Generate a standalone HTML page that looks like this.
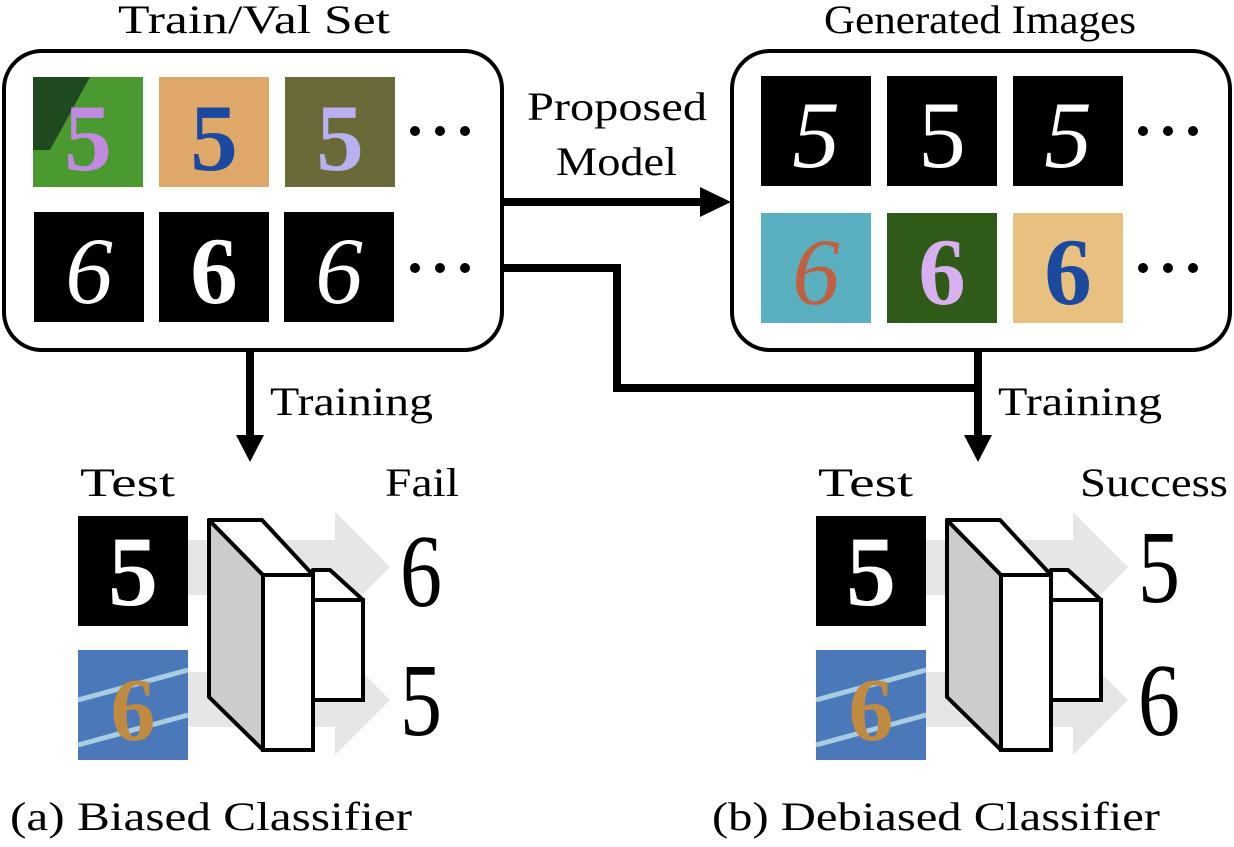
<!DOCTYPE html>
<html><head><meta charset="utf-8"><style>
body{margin:0;background:#fff;}
svg text{font-family:"Liberation Serif",serif;fill:#000;}
</style></head><body>
<svg width="1234" height="842" viewBox="0 0 1234 842" xmlns="http://www.w3.org/2000/svg">
<defs>
<g id="cls">
  <path d="M188 540 H335 V512 L390 567 L335 622 V595 H188 Z" fill="#e6e6e6"/>
  <path d="M188 672 H335 V645 L390 700 L335 755 V727 H188 Z" fill="#e6e6e6"/>
  <polygon points="313,570 330,570 363,600 313,600" fill="#fff" stroke="#000" stroke-width="4" stroke-linejoin="round"/>
  <rect x="313" y="600" width="50" height="100" fill="#fff" stroke="#000" stroke-width="4"/>
  <polygon points="209,520 263,575 263,750 209,697" fill="#ccc" stroke="#000" stroke-width="4" stroke-linejoin="round"/>
  <polygon points="209,520 262,520 313,575 263,575" fill="#fff" stroke="#000" stroke-width="4" stroke-linejoin="round"/>
  <rect x="263" y="575" width="50" height="175" fill="#fff" stroke="#000" stroke-width="4"/>
  <rect x="78" y="516" width="110" height="110" fill="#000"/>
  <text x="133" y="605" font-size="100" text-anchor="middle" font-family="Liberation Sans" font-weight="bold" style="fill:#fff">5</text>
  <rect x="78" y="650" width="110" height="110" fill="#4a78b8"/>
  <path d="M78 700 L188 670 M78 745 L188 715" stroke="#a8cde0" stroke-width="5"/>
  <text x="133" y="740" font-size="90" text-anchor="middle" font-family="Liberation Sans" font-weight="bold" style="fill:#c08a40">6</text>
</g>
</defs>

<text x="118" y="33" font-size="40" textLength="272" lengthAdjust="spacingAndGlyphs">Train/Val Set</text>
<text x="824" y="33" font-size="40" textLength="312" lengthAdjust="spacingAndGlyphs">Generated Images</text>

<rect x="4" y="51" width="498" height="299" rx="38" fill="#fff" stroke="#000" stroke-width="4"/>
<rect x="732" y="51" width="498" height="299" rx="38" fill="#fff" stroke="#000" stroke-width="4"/>

<rect x="33" y="77" width="110" height="110" fill="#4a9a30"/>
<path d="M33 77 L90 77 L50 150 L33 150Z" fill="#1f4a20"/>
<text x="88" y="170" font-size="95" text-anchor="middle" font-family="Liberation Sans" font-weight="bold" style="fill:#c08ae0">5</text>
<rect x="159" y="77" width="110" height="110" fill="#e0a868"/>
<text x="214" y="170" font-size="95" text-anchor="middle" font-family="Liberation Sans" font-weight="bold" style="fill:#1a4aa0">5</text>
<rect x="285" y="77" width="110" height="110" fill="#6a6a38"/>
<text x="340" y="170" font-size="95" text-anchor="middle" font-family="Liberation Sans" font-weight="bold" style="fill:#b8b0f0">5</text>
<rect x="34" y="212" width="110" height="110" fill="#000"/>
<text x="89" y="303" font-size="95" text-anchor="middle" font-style="italic" style="fill:#fff">6</text>
<rect x="159" y="212" width="110" height="110" fill="#000"/>
<text x="214" y="303" font-size="95" text-anchor="middle" font-family="Liberation Sans" font-weight="bold" style="fill:#fff">6</text>
<rect x="284" y="212" width="110" height="110" fill="#000"/>
<text x="339" y="303" font-size="95" text-anchor="middle" font-style="italic" style="fill:#fff">6</text>
<g fill="#000"><circle cx="415" cy="131" r="5"/><circle cx="440" cy="131" r="5"/><circle cx="465" cy="131" r="5"/>
<circle cx="415" cy="268" r="5"/><circle cx="440" cy="268" r="5"/><circle cx="465" cy="268" r="5"/>
<circle cx="1143" cy="131" r="5"/><circle cx="1168" cy="131" r="5"/><circle cx="1193" cy="131" r="5"/>
<circle cx="1143" cy="268" r="5"/><circle cx="1168" cy="268" r="5"/><circle cx="1193" cy="268" r="5"/></g>

<rect x="761" y="76" width="110" height="110" fill="#000"/>
<text x="816" y="167" font-size="95" text-anchor="middle" font-style="italic" style="fill:#fff">5</text>
<rect x="887" y="76" width="110" height="110" fill="#000"/>
<text x="942" y="167" font-size="95" text-anchor="middle" style="fill:#fff">5</text>
<rect x="1013" y="76" width="110" height="110" fill="#000"/>
<text x="1068" y="167" font-size="95" text-anchor="middle" font-style="italic" style="fill:#fff">5</text>
<rect x="761" y="213" width="110" height="110" fill="#5ab0c0"/>
<text x="816" y="304" font-size="95" text-anchor="middle" font-style="italic" style="fill:#c06040">6</text>
<rect x="887" y="213" width="110" height="110" fill="#2f5a18"/>
<text x="942" y="304" font-size="95" text-anchor="middle" font-family="Liberation Sans" font-weight="bold" style="fill:#d8b0f0">6</text>
<rect x="1013" y="213" width="110" height="110" fill="#e8c080"/>
<text x="1068" y="304" font-size="95" text-anchor="middle" font-family="Liberation Sans" font-weight="bold" style="fill:#1a4aa0">6</text>

<g stroke="#000" stroke-width="8" fill="none">
<path d="M502 202 H705"/>
<path d="M502 268 H617 V388 H978"/>
<path d="M978 350 V440"/>
<path d="M250 351 V440"/>
</g>
<polygon points="700,187 731,202 700,217" fill="#000"/>
<polygon points="964,435 992,435 978,462" fill="#000"/>
<polygon points="236,435 264,435 250,462" fill="#000"/>

<text x="527" y="120" font-size="40" textLength="180" lengthAdjust="spacingAndGlyphs">Proposed</text>
<text x="556" y="175" font-size="40" textLength="121" lengthAdjust="spacingAndGlyphs">Model</text>
<text x="270" y="415" font-size="40" textLength="163" lengthAdjust="spacingAndGlyphs">Training</text>
<text x="998" y="415" font-size="40" textLength="164" lengthAdjust="spacingAndGlyphs">Training</text>

<text x="80" y="496" font-size="40" textLength="95" lengthAdjust="spacingAndGlyphs">Test</text>
<text x="385" y="496" font-size="40" textLength="74" lengthAdjust="spacingAndGlyphs">Fail</text>
<text x="818" y="496" font-size="40" textLength="95" lengthAdjust="spacingAndGlyphs">Test</text>
<text x="1080" y="496" font-size="40" textLength="148" lengthAdjust="spacingAndGlyphs">Success</text>

<use href="#cls"/>
<use href="#cls" x="738"/>
<text x="400" y="606" font-size="104" textLength="42" lengthAdjust="spacingAndGlyphs">6</text>
<text x="400" y="735" font-size="104" textLength="42" lengthAdjust="spacingAndGlyphs">5</text>
<text x="1138" y="602" font-size="104" textLength="42" lengthAdjust="spacingAndGlyphs">5</text>
<text x="1138" y="735" font-size="104" textLength="42" lengthAdjust="spacingAndGlyphs">6</text>

<text x="10" y="830" font-size="40" textLength="402" lengthAdjust="spacingAndGlyphs">(a) Biased Classifier</text>
<text x="712" y="830" font-size="40" textLength="448" lengthAdjust="spacingAndGlyphs">(b) Debiased Classifier</text>
</svg>
</body></html>
